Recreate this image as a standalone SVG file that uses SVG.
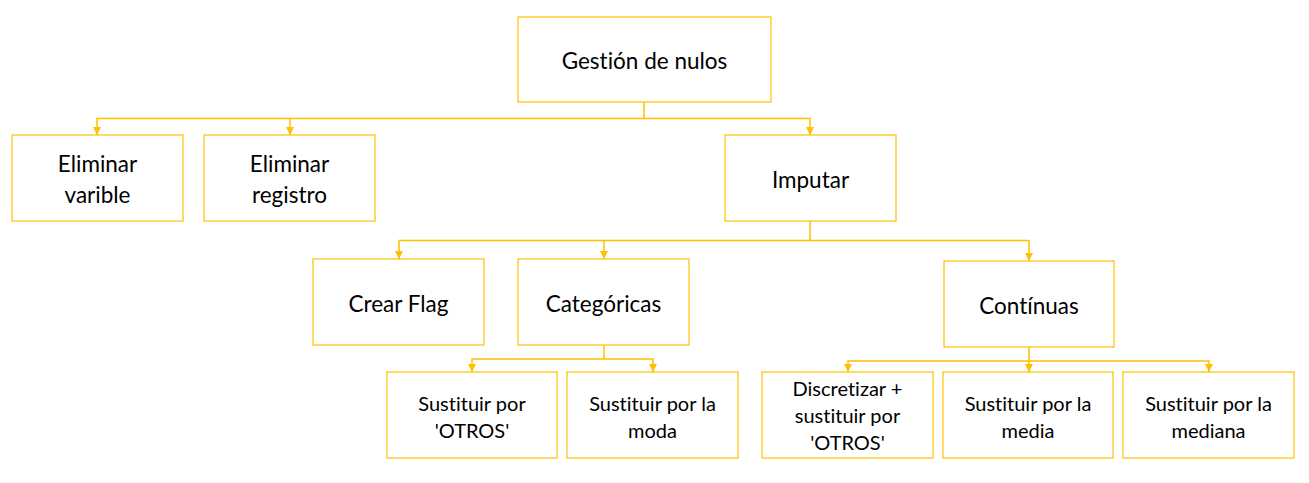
<svg xmlns="http://www.w3.org/2000/svg" width="1309" height="483" viewBox="0 0 1309 483">
<style>
.box{fill:#fff;stroke:#FFC000;stroke-width:1.2}
.t{font-family:Lato,"Liberation Sans",sans-serif;fill:#000;text-anchor:middle;dominant-baseline:central;font-variant-ligatures:none}
.l{font-size:22.5px}
.s{font-size:20px}
.c{fill:none;stroke:#FFC000;stroke-width:1.5}
</style>
<defs>
<marker id="ah" viewBox="0 0 10 10" refX="10" refY="5" markerWidth="8" markerHeight="8" markerUnits="userSpaceOnUse" orient="auto">
<path d="M0,0 L10,5 L0,10 z" fill="#FFC000"/>
</marker>
</defs>
<rect width="1309" height="483" fill="#fff"/>
<g id="connectors">
<path class="c" d="M644,102 V118.5 H97 V135" marker-end="url(#ah)"/>
<path class="c" d="M290,118.5 V135" marker-end="url(#ah)"/>
<path class="c" d="M644,118.5 H810 V135" marker-end="url(#ah)"/>
<path class="c" d="M810,221 V240.5 H399 V259" marker-end="url(#ah)"/>
<path class="c" d="M604,240.5 V259" marker-end="url(#ah)"/>
<path class="c" d="M810,240.5 H1029 V261" marker-end="url(#ah)"/>
<path class="c" d="M604,345 V359 H472 V372" marker-end="url(#ah)"/>
<path class="c" d="M604,359 H653 V372" marker-end="url(#ah)"/>
<path class="c" d="M1029,347 V361 H848 V372" marker-end="url(#ah)"/>
<path class="c" d="M1029,361 V372" marker-end="url(#ah)"/>
<path class="c" d="M1029,361 H1209 V372" marker-end="url(#ah)"/>
</g>
<g id="root"><rect class="box" x="518" y="17" width="253" height="85"/><text class="t l" x="644.5" y="60">Gestión de nulos</text></g>
<g id="elim-var"><rect class="box" x="12" y="135" width="171" height="86"/><text class="t l" x="97.5" y="163">Eliminar</text><text class="t l" x="97.5" y="194">varible</text></g>
<g id="elim-reg"><rect class="box" x="204" y="135" width="171" height="86"/><text class="t l" x="289.5" y="163">Eliminar</text><text class="t l" x="289.5" y="194">registro</text></g>
<g id="imputar"><rect class="box" x="725" y="135" width="171" height="86"/><text class="t l" x="810.5" y="179">Imputar</text></g>
<g id="flag"><rect class="box" x="313" y="259" width="171" height="86"/><text class="t l" x="398.5" y="303">Crear Flag</text></g>
<g id="categoricas"><rect class="box" x="518" y="259" width="171" height="86"/><text class="t l" x="603.5" y="303">Categóricas</text></g>
<g id="continuas"><rect class="box" x="944" y="261" width="170" height="86"/><text class="t l" x="1029" y="305">Contínuas</text></g>
<g id="otros"><rect class="box" x="387" y="372" width="170" height="86"/><text class="t s" x="472" y="403">Sustituir por</text><text class="t s" x="472" y="430">'OTROS'</text></g>
<g id="moda"><rect class="box" x="567" y="372" width="171" height="86"/><text class="t s" x="652.5" y="403">Sustituir por la</text><text class="t s" x="652.5" y="430">moda</text></g>
<g id="discretizar"><rect class="box" x="762" y="372" width="171" height="86"/><text class="t s" x="847.5" y="388">Discretizar +</text><text class="t s" x="847.5" y="415">sustituir por</text><text class="t s" x="847.5" y="442">'OTROS'</text></g>
<g id="media"><rect class="box" x="943" y="372" width="170" height="86"/><text class="t s" x="1028" y="403">Sustituir por la</text><text class="t s" x="1028" y="430">media</text></g>
<g id="mediana"><rect class="box" x="1123" y="372" width="171" height="86"/><text class="t s" x="1208.5" y="403">Sustituir por la</text><text class="t s" x="1208.5" y="430">mediana</text></g>
</svg>
